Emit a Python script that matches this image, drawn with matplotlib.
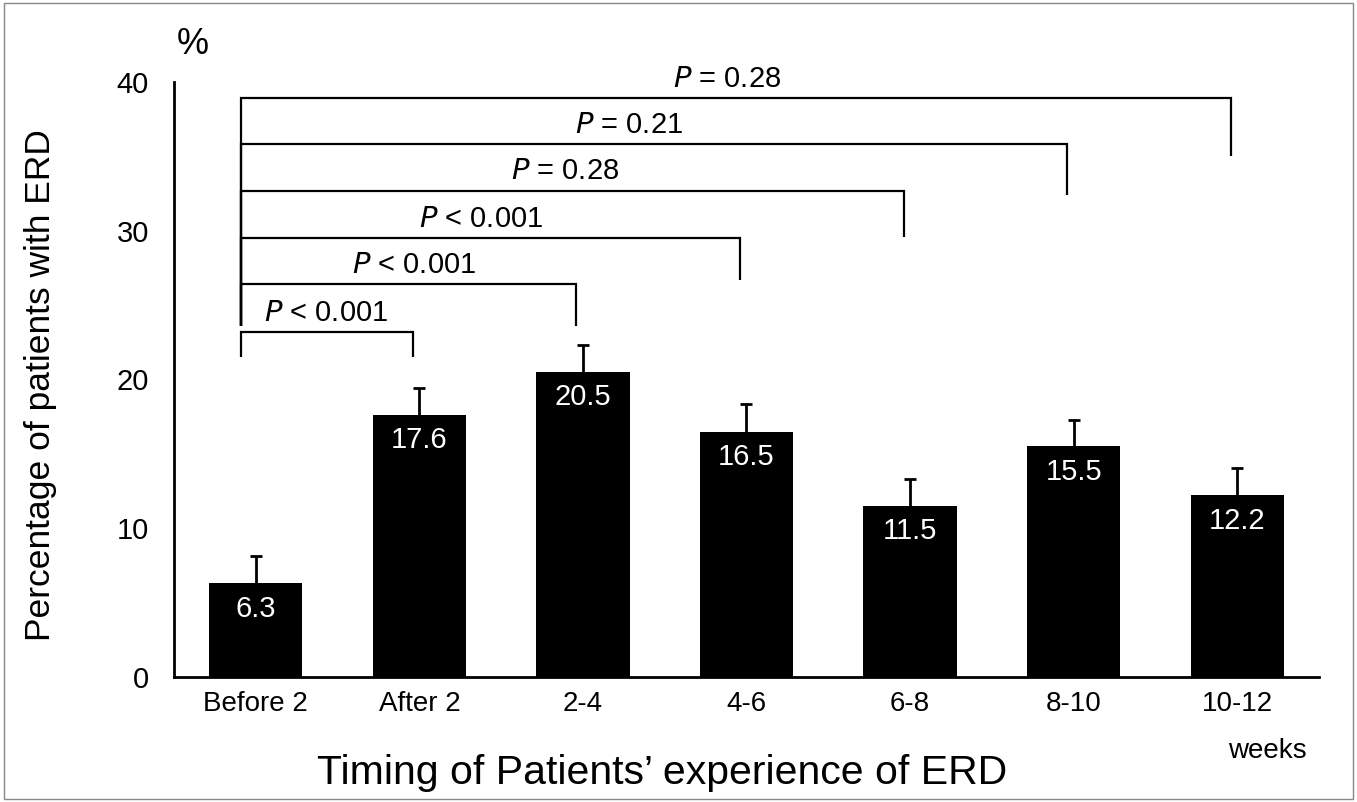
import numpy as np
import matplotlib
matplotlib.use("Agg")
import matplotlib.pyplot as plt
from matplotlib.patches import Rectangle

plt.rcParams["font.family"] = ["Liberation Sans", "DejaVu Sans"]

# ---------- data ----------
categories = ["Before 2", "After 2", "2-4", "4-6", "6-8", "8-10", "10-12"]
percent = [6.3, 17.6, 20.5, 16.5, 11.5, 15.5, 12.2]
err_upper = [1.8, 1.8, 1.8, 1.85, 1.8, 1.8, 1.85]

# comparisons vs "Before 2"
cmp_target = [1, 2, 3, 4, 5, 6]
cmp_labels = ["$\\it{P}$ < 0.001", "$\\it{P}$ < 0.001", "$\\it{P}$ < 0.001",
              "$\\it{P}$ = 0.28", "$\\it{P}$ = 0.21", "$\\it{P}$ = 0.28"]

# ---------- bracket layout ----------
br_top = [23.2, 26.4, 29.5, 32.7, 35.8, 38.9]
br_left_bottom = [21.5, 23.6, 23.6, 23.6, 23.6, 23.6]
br_right_bottom = [21.5, 23.6, 26.7, 29.6, 32.4, 35.0]
br_text_x = [0.43, 0.97, 1.38, 1.89, 2.28, 2.88]

fig = plt.figure(figsize=(13.57, 8.02), dpi=100)
ax = fig.add_axes([0.1282, 0.1559, 0.8438, 0.7419])

x = np.arange(len(categories))
ax.bar(x, percent, width=0.57, color="black", zorder=2)
_, caps, _ = ax.errorbar(x, percent, yerr=[np.zeros(len(x)), err_upper], fmt="none",
                         ecolor="black", elinewidth=2, capsize=4, capthick=2, zorder=1)
caps[0].set_visible(False)  # only the upper cap

for i, v in enumerate(percent):
    ax.text(i, v - 1.7, f"{v:.1f}", color="white", ha="center", va="center",
            fontsize=21, zorder=3)

for k, j in enumerate(cmp_target):
    xl, xr = -0.09, j - 0.04
    ax.plot([xl, xl, xr, xr],
            [br_left_bottom[k], br_top[k], br_top[k], br_right_bottom[k]],
            color="black", lw=1.6, solid_capstyle="butt", solid_joinstyle="miter",
            clip_on=False)
    ax.text(br_text_x[k], br_top[k] + 0.35, cmp_labels[k], ha="center",
            va="bottom", fontsize=21)

ax.set_xlim(-0.5, 6.5)
ax.set_ylim(0, 40)
ax.set_yticks([0, 10, 20, 30, 40])
ax.set_xticks(x)
ax.set_xticklabels(categories)
ax.tick_params(axis="both", length=0, labelsize=20)
ax.tick_params(axis="y", pad=18, labelsize=21)
ax.tick_params(axis="x", pad=10)
for s in ["top", "right"]:
    ax.spines[s].set_visible(False)
for s in ["left", "bottom"]:
    ax.spines[s].set_linewidth(2)

fig.text(0.03, 0.52, "Percentage of patients with ERD", rotation=90,
         ha="center", va="center", fontsize=25.5)
fig.text(0.488, 0.036, "Timing of Patients\u2019 experience of ERD",
         ha="center", va="center", fontsize=29.5)
fig.text(0.142, 0.944, "%", ha="center", va="center", fontsize=26)
fig.text(0.9632, 0.063, "weeks", ha="right", va="center", fontsize=20)

# thin frame around the whole picture
fig.patches.append(Rectangle((0.003, 0.004), 0.994, 0.992, transform=fig.transFigure,
                             fill=False, edgecolor="#888888", lw=1))

fig.savefig("out.png", dpi=100)
